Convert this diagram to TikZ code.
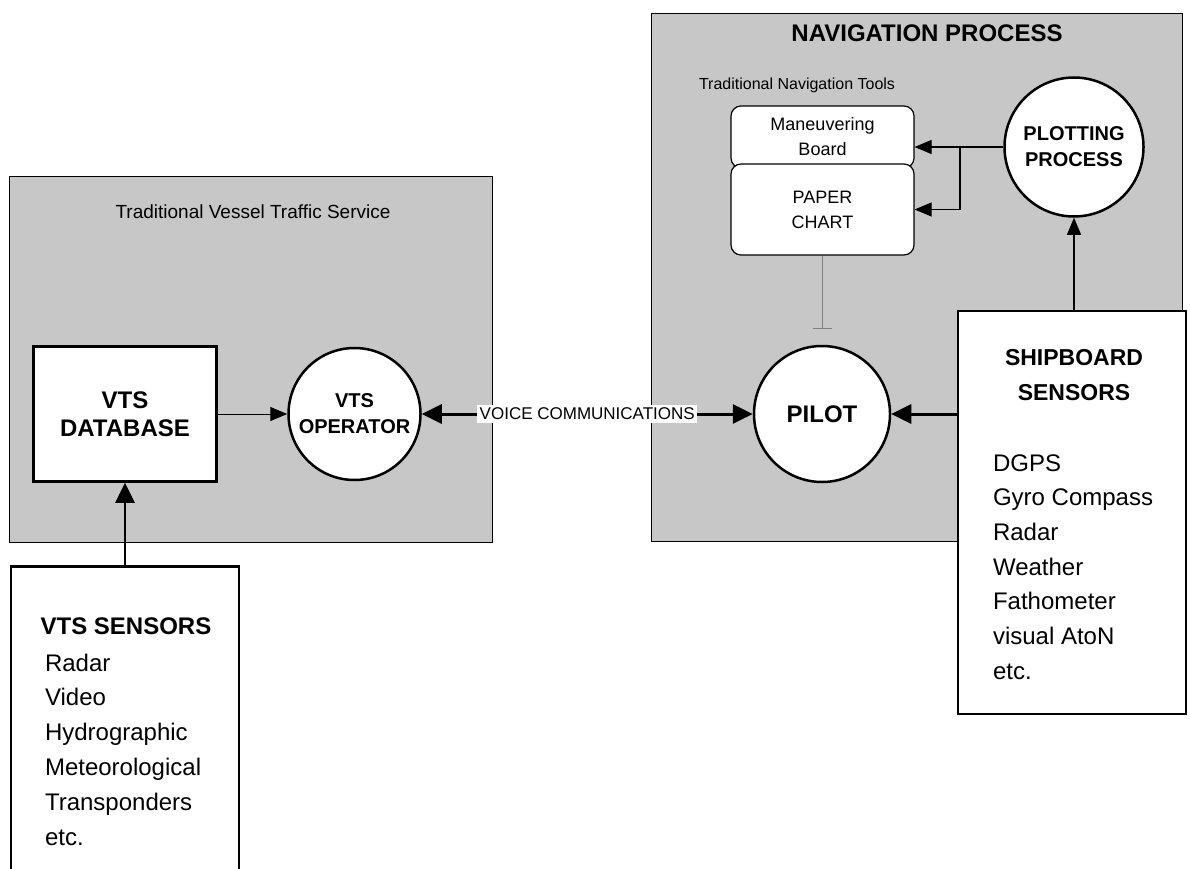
\documentclass[tikz,border=0pt]{standalone}
\usepackage{fontspec}
\setmainfont{Liberation Sans}
\usetikzlibrary{arrows.meta}

\begin{document}
\begin{tikzpicture}[x=1pt, y=-1pt, >={Triangle[length=17pt,width=14pt]},
  panel/.style={draw, line width=0.8pt, fill=black!22},
  proc/.style={circle, draw, line width=2.5pt, fill=white, align=center},
  sensbox/.style={draw, line width=2.5pt, fill=white},
  tool/.style={draw, line width=1.2pt, rounded corners=10pt, fill=white,
               minimum width=183pt, align=center, font=\fontsize{18}{25}\selectfont},
  big/.style={line width=3pt, >={Triangle[length=20pt,width=19pt]}}]

  \useasboundingbox[fill=white] (0,0) rectangle (1190,869);

  % Panels
  \node[panel, minimum width=483pt, minimum height=366pt] (vts) at (250.5,359) {};
  \node[panel, minimum width=531pt, minimum height=528pt] (nav) at (916.5,277) {};

  \node[font=\fontsize{19}{23}\selectfont] (vtstitle) at (253,212)
    {Traditional Vessel Traffic Service};
  \node[font=\fontsize{24}{28}\selectfont\bfseries] (navtitle) at (927,33)
    {NAVIGATION PROCESS};
  \node[font=\fontsize{16}{19}\selectfont] (tooltitle) at (797,85)
    {Traditional Navigation Tools};

  % VTS side
  \node[sensbox, minimum width=183pt, minimum height=135pt, align=center,
        font=\fontsize{24}{28}\selectfont\bfseries] (db) at (125,414)
    {VTS\\DATABASE};
  \node[proc, minimum size=132pt, font=\fontsize{20}{26}\selectfont\bfseries] (opr) at (354.5,414)
    {VTS\\OPERATOR};

  % Navigation side
  \node[proc, minimum size=136pt, font=\fontsize{24}{28}\selectfont\bfseries] (pilot) at (822,414)
    {PILOT};
  \node[proc, minimum size=139pt, font=\fontsize{20}{26}\selectfont\bfseries] (plot) at (1074,147)
    {PLOTTING\\PROCESS};
  \node[tool, minimum height=62pt] (board) at (822.5,137) {Maneuvering\\Board};
  \node[tool, minimum height=91pt] (chart) at (822.5,209.5) {PAPER\\CHART};

  % Sensors
  \node[sensbox, minimum width=228pt, minimum height=315pt] (vtssens) at (125,724) {};
  \node[font=\fontsize{24}{28}\selectfont\bfseries] (vtshead) at (126,626) {VTS SENSORS};
  \node[anchor=west, align=left, font=\fontsize{24}{34.8}\selectfont] (vtslist) at (41.5,749.5)
    {Radar\\Video\\Hydrographic\\Meteorological\\Transponders\\etc.};

  \node[sensbox, minimum width=228pt, minimum height=403pt] (shipsens) at (1072,512.5) {};
  \node[align=center, font=\fontsize{23}{35}\selectfont\bfseries] (shiphead) at (1074,375)
    {SHIPBOARD\\SENSORS};
  \node[anchor=west, align=left, font=\fontsize{24}{34.7}\selectfont] (shiplist) at (989.5,567)
    {DGPS\\Gyro Compass\\Radar\\Weather\\Fathometer\\visual AtoN\\etc.};

  % Arrows
  \draw[->, line width=1pt] (db) -- (opr);
  \draw[<->, big] (opr) -- (pilot)
    node[midway, fill=white, inner sep=2.5pt, font=\fontsize{17}{20}\selectfont] (voice)
    {VOICE COMMUNICATIONS};
  \draw[->, big] (shipsens.west |- pilot) -- (pilot.east);
  \draw[->, big, line width=2.5pt] (vtssens.north) -- (db.south);
  \draw[->, line width=1.2pt] (shipsens.north -| plot) -- (plot.south);

  \coordinate (split) at (960,147);
  \draw[->, line width=1.2pt] (plot.west) -- (plot.west -| board.east);
  \draw[->, line width=1.2pt] (split) |- (chart.east);
  \draw[gray, line width=1pt, -{Bar[width=19pt]}, shorten >=16pt]
    (chart.south) -- (chart.south |- pilot.north);
\end{tikzpicture}
\end{document}
